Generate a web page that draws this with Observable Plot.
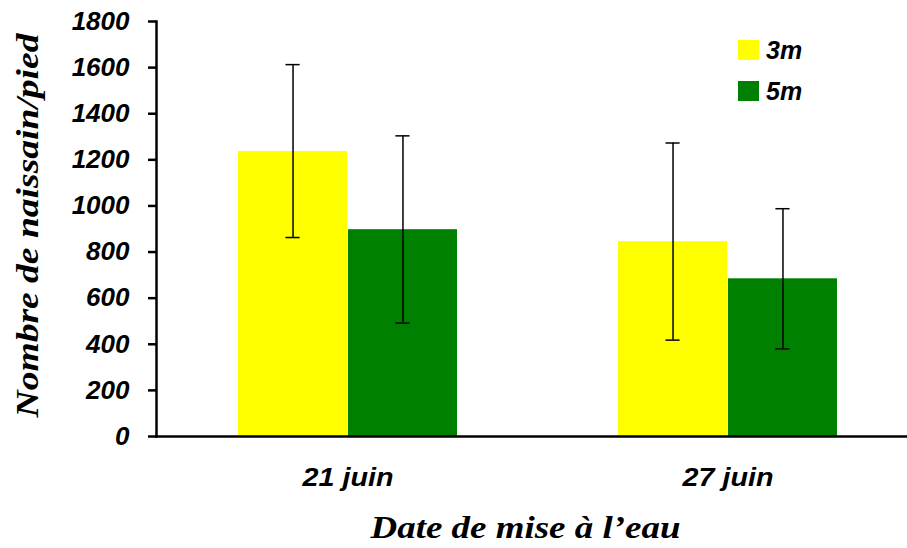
<!DOCTYPE html>
<html>
<head>
<meta charset="utf-8">
<script src="https://cdn.jsdelivr.net/npm/d3@7"></script>
<script src="https://cdn.jsdelivr.net/npm/@observablehq/plot@0.6"></script>
<style>
  html, body { margin: 0; padding: 0; background: #fff; }
  #wrap { position: relative; width: 907px; height: 548px; }
  .legend { position: absolute; left: 738px; top: 40px; font: italic bold 25px "Liberation Sans", Arial, sans-serif; color: #000; }
  .legend .item { display: flex; align-items: center; height: 20px; margin-bottom: 21px; }
  .legend .sw { width: 21px; height: 20px; margin-right: 7px; }
</style>
</head>
<body>
<div id="wrap"></div>
<script>
// ---- data ----
const dates = ["21 juin", "27 juin"];
const series = ["3m", "5m"];
const colors = ["#FFFF00", "#008000"];
const mean3m = [1236, 845];
const mean5m = [897, 684];
const lo3m = [863, 418];
const hi3m = [1613, 1273];
const lo5m = [492, 380];
const hi5m = [1304, 988];
const yTicks = [0, 200, 400, 600, 800, 1000, 1200, 1400, 1600, 1800];
const yTitle = "Nombre de naissain/pied";
const xTitle = "Date de mise à l’eau";

const rows3m = dates.map((d, i) => ({date: d, value: mean3m[i], lo: lo3m[i], hi: hi3m[i]}));
const rows5m = dates.map((d, i) => ({date: d, value: mean5m[i], lo: lo5m[i], hi: hi5m[i]}));

const W = 907, H = 548, mL = 156, mR = 0, mT = 21, mB = 112;
const pIn = 0.4226, pOut = 0.1975, al = 0.539;
// bandwidth of the date band (shared by the two series bars)
const bw = d3.scaleBand(dates, [mL, W - mR]).paddingInner(pIn).paddingOuter(pOut).align(al).bandwidth();
const half = bw / 2, q = bw / 4, cap = 7.5;

const serif = "'Liberation Serif', 'Times New Roman', serif";
const ebar = {stroke: "#000", strokeWidth: 1.5};
const titleStyle = {fontFamily: serif, fontSize: 31, fontWeight: "bold", fontStyle: "italic", fill: "#000", textAnchor: "middle", lineAnchor: "middle"};

const chart = Plot.plot({
  width: W,
  height: H,
  marginLeft: mL,
  marginRight: mR,
  marginTop: mT,
  marginBottom: mB,
  style: {fontFamily: "'Liberation Sans', Arial, sans-serif", fontWeight: "bold", fontStyle: "italic", color: "#000", background: "#fff", overflow: "visible"},
  x: {domain: dates, paddingInner: pIn, paddingOuter: pOut, align: al, axis: null},
  y: {domain: [0, 1800], axis: null},
  marks: [
    Plot.barY(rows3m, {x: "date", y: "value", fill: colors[0], insetRight: half}),
    Plot.barY(rows5m, {x: "date", y: "value", fill: colors[1], insetLeft: half}),
    Plot.ruleX(rows3m, {x: "date", y1: "lo", y2: "hi", dx: -q, ...ebar}),
    Plot.ruleX(rows5m, {x: "date", y1: "lo", y2: "hi", dx: q, ...ebar}),
    Plot.tickY(rows3m, {x: "date", y: "hi", insetLeft: q - cap, insetRight: bw - q - cap, ...ebar}),
    Plot.tickY(rows3m, {x: "date", y: "lo", insetLeft: q - cap, insetRight: bw - q - cap, ...ebar}),
    Plot.tickY(rows5m, {x: "date", y: "hi", insetLeft: bw - q - cap, insetRight: q - cap, ...ebar}),
    Plot.tickY(rows5m, {x: "date", y: "lo", insetLeft: bw - q - cap, insetRight: q - cap, ...ebar}),
    Plot.axisY({ticks: yTicks, tickFormat: d => String(d), tickSize: 8, tickPadding: 19, fontSize: 26, strokeWidth: 2.5, label: null}),
    Plot.axisX({tickSize: 0, tickPadding: 31, fontSize: 26, label: null}),
    Plot.frame({anchor: "left", stroke: "#000", strokeWidth: 2.5}),
    Plot.frame({anchor: "bottom", stroke: "#000", strokeWidth: 2.5}),
    Plot.text([yTitle], {frameAnchor: "left", rotate: -90, dx: -128, dy: -3.5, ...titleStyle}),
    Plot.text([xTitle], {frameAnchor: "bottom", dy: 92, dx: -6.5, ...titleStyle})
  ]
});

// stretch the titles and date labels to the lengths they have in the figure
const sel = d3.select(chart);
const titles = sel.selectAll('g[aria-label="text"] text').nodes();
const titleLengths = [384, 310];
titles.forEach((t, i) => { t.setAttribute("textLength", titleLengths[i]); t.setAttribute("lengthAdjust", "spacingAndGlyphs"); });
sel.selectAll('g[aria-label="x-axis tick label"] text').each(function () {
  this.setAttribute("textLength", 91); this.setAttribute("lengthAdjust", "spacingAndGlyphs");
});

const wrap = document.getElementById("wrap");
wrap.appendChild(chart);

const legend = document.createElement("div");
legend.className = "legend";
series.forEach((s, i) => {
  const item = document.createElement("div");
  item.className = "item";
  const sw = document.createElement("span");
  sw.className = "sw";
  sw.style.background = colors[i];
  const lab = document.createElement("span");
  lab.textContent = s;
  item.appendChild(sw);
  item.appendChild(lab);
  legend.appendChild(item);
});
wrap.appendChild(legend);
</script>
</body>
</html>
